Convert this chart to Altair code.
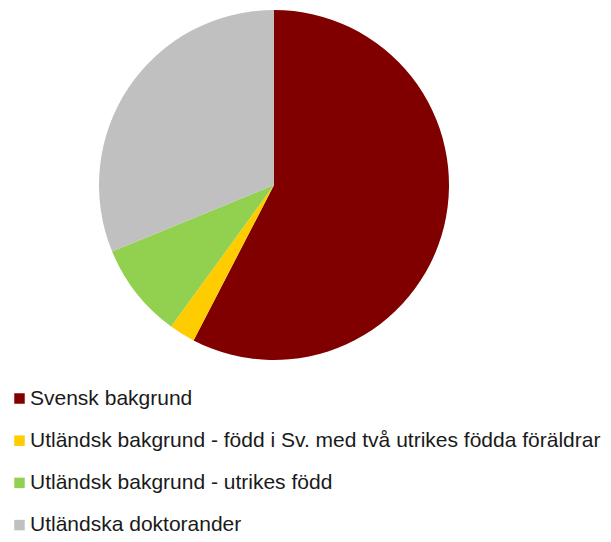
import altair as alt
import pandas as pd

categories = [
    "Svensk bakgrund",
    "Utländsk bakgrund - född i Sv. med två utrikes födda föräldrar",
    "Utländsk bakgrund - utrikes född",
    "Utländska doktorander",
]
values = [57.6, 2.4, 8.8, 31.2]
colors = ["#800000", "#FFCC00", "#92D050", "#C0C0C0"]

df = pd.DataFrame({"kategori": categories, "andel": values, "ordning": list(range(len(categories)))})

chart = alt.Chart(df).mark_arc(radius=175, stroke=None).encode(
    theta=alt.Theta("andel:Q", stack=True),
    order=alt.Order("ordning:Q"),
    x=alt.value(266),
    y=alt.value(177),
    color=alt.Color(
        "kategori:N",
        scale=alt.Scale(domain=categories, range=colors),
        sort=categories,
        legend=alt.Legend(
            title=None,
            orient="none",
            legendX=1,
            legendY=380,
            symbolType="square",
            symbolSize=110,
            symbolStrokeWidth=0,
            labelFontSize=21,
            labelFont="Liberation Sans",
            labelColor="#1a1a1a",
            labelLimit=0,
            labelOffset=0,
            rowPadding=20.2,
            direction="vertical",
        ),
    ),
).properties(
    width=595, height=526, padding=0,
    autosize=alt.AutoSizeParams(type="none"),
).configure_view(stroke=None)

chart.save("out.html", embed_options={"renderer": "svg", "actions": False})
